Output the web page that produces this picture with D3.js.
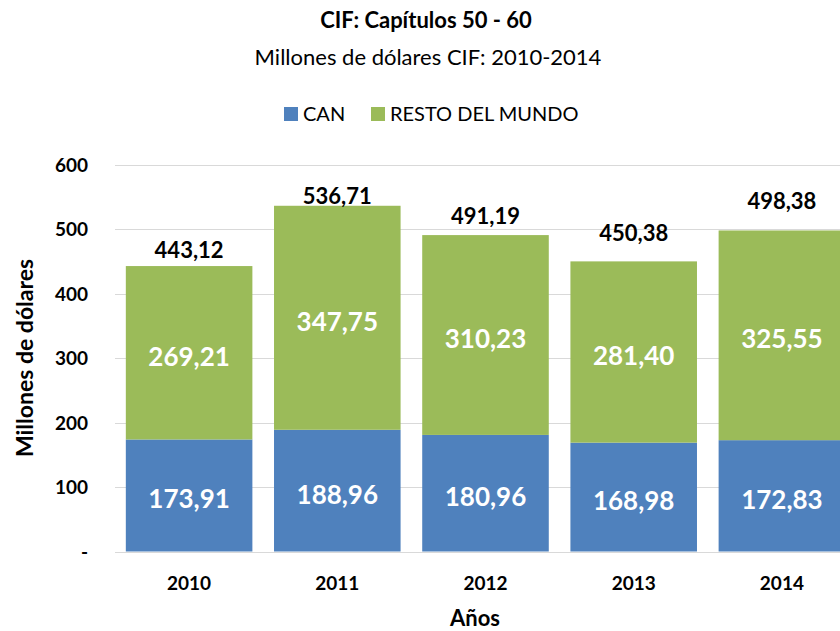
<!DOCTYPE html>
<html>
<head>
<meta charset="utf-8">
<script src="https://d3js.org/d3.v7.min.js"></script>
<style>
  body { margin: 0; background: #fff; }
  svg text { font-family: Lato, "Open Sans", sans-serif; }
</style>
</head>
<body>
<div id="chart"></div>
<script>
// data
var years = ["2010", "2011", "2012", "2013", "2014"];
var can = [173.91, 188.96, 180.96, 168.98, 172.83];
var resto = [269.21, 347.75, 310.23, 281.40, 325.55];
var totals = [443.12, 536.71, 491.19, 450.38, 498.38];
var yTicks = [0, 100, 200, 300, 400, 500, 600];
var seriesNames = ["CAN", "RESTO DEL MUNDO"];
var colors = ["#4F81BD", "#9BBB59"];

// total labels were nudged by hand in the original, px above bar top
var totalLift = [8, 2, 11, 20, 21];

var W = 840, H = 631;
var svg = d3.select("#chart").append("svg").attr("width", W).attr("height", H);

var fmt = function(v) { return v.toFixed(2).replace(".", ","); };

var x = d3.scaleBand().domain(years).range([115, 856]).paddingInner(0.146).paddingOuter(0.073);
var y = d3.scaleLinear().domain([0, 600]).range([551.5, 165]);

// gridlines
svg.append("g").selectAll("line").data(yTicks).enter().append("line")
  .attr("x1", 115).attr("x2", W)
  .attr("y1", function(d) { return Math.round(y(d)) + 0.5; })
  .attr("y2", function(d) { return Math.round(y(d)) + 0.5; })
  .attr("stroke", "#D9D9D9").attr("stroke-width", 1);

// y tick labels
svg.append("g").selectAll("text").data(yTicks).enter().append("text")
  .attr("x", 88).attr("y", function(d) { return y(d) + 7; })
  .attr("text-anchor", "end").attr("font-weight", "bold").attr("font-size", 19)
  .text(function(d) { return d === 0 ? "-" : d; });

// stacked bars
var rows = years.map(function(yr, i) { return { year: yr, can: can[i], resto: resto[i], total: totals[i], lift: totalLift[i] }; });
var stack = d3.stack().keys(["can", "resto"])(rows);

var layer = svg.selectAll(".layer").data(stack).enter().append("g")
  .attr("fill", function(d, i) { return colors[i]; });

layer.selectAll("rect").data(function(d) { return d; }).enter().append("rect")
  .attr("x", function(d) { return x(d.data.year); })
  .attr("width", x.bandwidth())
  .attr("y", function(d) { return y(d[1]); })
  .attr("height", function(d) { return y(d[0]) - y(d[1]); });

// segment value labels
layer.selectAll("text").data(function(d) { return d; }).enter().append("text")
  .attr("x", function(d) { return x(d.data.year) + x.bandwidth() / 2; })
  .attr("y", function(d) { return (y(d[0]) + y(d[1])) / 2 + 13; })
  .attr("text-anchor", "middle").attr("fill", "#fff")
  .attr("font-weight", "bold").attr("font-size", 26)
  .text(function(d) { return fmt(d[1] - d[0]); });

// totals
svg.append("g").selectAll("text").data(rows).enter().append("text")
  .attr("x", function(d) { return x(d.year) + x.bandwidth() / 2; })
  .attr("y", function(d) { return y(d.total) - d.lift; })
  .attr("text-anchor", "middle").attr("font-weight", "bold").attr("font-size", 22)
  .text(function(d) { return fmt(d.total); });

// x tick labels
svg.append("g").selectAll("text").data(years).enter().append("text")
  .attr("x", function(d) { return x(d) + x.bandwidth() / 2; })
  .attr("y", 590).attr("text-anchor", "middle")
  .attr("font-weight", "bold").attr("font-size", 19)
  .text(function(d) { return d; });

// axis titles
svg.append("text").attr("x", 475).attr("y", 626).attr("text-anchor", "middle")
  .attr("font-weight", "bold").attr("font-size", 22).text("Años");
svg.append("text").attr("transform", "translate(33,358) rotate(-90)")
  .attr("text-anchor", "middle").attr("font-weight", "bold").attr("font-size", 23)
  .text("Millones de dólares");

// titles
svg.append("text").attr("x", 426).attr("y", 28).attr("text-anchor", "middle")
  .attr("font-weight", "bold").attr("font-size", 22).text("CIF: Capítulos 50 - 60");
svg.append("text").attr("x", 428).attr("y", 65).attr("text-anchor", "middle")
  .attr("font-size", 22).text("Millones de dólares CIF: 2010-2014");

// legend
var legendX = [284, 371];
var leg = svg.append("g").selectAll("g").data(seriesNames).enter().append("g")
  .attr("transform", function(d, i) { return "translate(" + legendX[i] + ",107)"; });
leg.append("rect").attr("width", 14).attr("height", 14)
  .attr("fill", function(d, i) { return colors[i]; });
leg.append("text").attr("x", 19).attr("y", 14).attr("font-size", 20)
  .text(function(d) { return d; });
</script>
</body>
</html>
